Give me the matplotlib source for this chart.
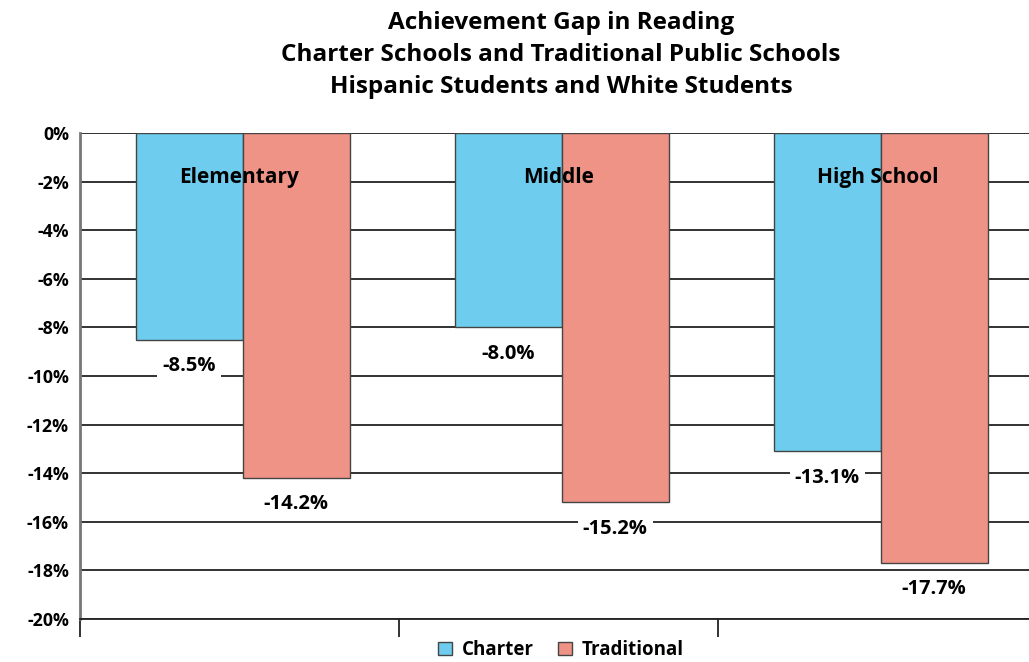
import matplotlib.pyplot as plt
from matplotlib.patches import Patch
import numpy as np

# reading gap between Hispanic and White students, by school level
levels = ["Elementary", "Middle", "High School"]
charter = [-8.5, -8.0, -13.1]
traditional = [-14.2, -15.2, -17.7]
yticks = [0, -2, -4, -6, -8, -10, -12, -14, -16, -18, -20]

blue = "#6ecdee"
salmon = "#f09387"
edge = "#444444"

plt.rcParams['font.family'] = ['Open Sans', 'DejaVu Sans']

fig = plt.figure(figsize=(10.29, 6.62), dpi=100)
ax = fig.add_axes([80 / 1029, 43 / 662, 957 / 1029, 486 / 662])

x = np.arange(len(levels))
width = 0.335
off = 0.01
b1 = ax.bar(x + off - width / 2, charter, width, color=blue,
            edgecolor=edge, linewidth=1.0, zorder=3)
b2 = ax.bar(x + off + width / 2, traditional, width, color=salmon,
            edgecolor=edge, linewidth=1.0, zorder=3)

# value labels under each bar
for bars, vals in ((b1, charter), (b2, traditional)):
    for rect, v in zip(bars, vals):
        ax.annotate(f"{v:.1f}%",
                    (rect.get_x() + rect.get_width() / 2, v),
                    xytext=(0, -19), textcoords="offset points",
                    ha="center", va="center", fontsize=14.5,
                    fontweight="bold", zorder=5,
                    bbox=dict(boxstyle="square,pad=0.25", fc="white",
                              ec="none"))

# category names inside the top of each pair
for xi, name in zip(x, levels):
    ax.text(xi, -1.85, name, ha="center", va="center", fontsize=15,
            fontweight="bold", zorder=6)

ax.set_xlim(-0.5, 2.5)
ax.set_ylim(-20, 0)
ax.set_yticks(yticks)
ax.set_yticklabels([f"{t}%" for t in yticks], fontsize=12.8,
                   fontweight="bold")
ax.tick_params(axis="y", length=0, pad=8)
ax.yaxis.grid(True, color="#222222", linewidth=1.3, zorder=0)
ax.set_axisbelow(True)

ax.set_xticks([-0.5, 0.5, 1.5, 2.5])
ax.set_xticklabels([])
ax.tick_params(axis="x", direction="out", length=13, width=1.3,
               color="#222222")

for s in ("top", "right"):
    ax.spines[s].set_visible(False)
ax.spines["left"].set_color("#777777")
ax.spines["left"].set_linewidth(2)
ax.spines["bottom"].set_color("#222222")
ax.spines["bottom"].set_linewidth(1.3)

fig.text(561 / 1029, 1 - 55 / 662,
         "Achievement Gap in Reading\n"
         "Charter Schools and Traditional Public Schools\n"
         "Hispanic Students and White Students",
         ha="center", va="center", fontsize=17.5, fontweight="bold",
         linespacing=1.45)

handles = [Patch(facecolor=blue, edgecolor=edge, label="Charter"),
           Patch(facecolor=salmon, edgecolor=edge, label="Traditional")]
fig.legend(handles=handles, loc="center", bbox_to_anchor=(561 / 1029, 12 / 662),
           ncol=2, frameon=False, prop=dict(weight="bold", size=13.5),
           handlelength=0.75, handleheight=0.75, handletextpad=0.5,
           columnspacing=1.3)

fig.savefig("out.png", dpi=100)
